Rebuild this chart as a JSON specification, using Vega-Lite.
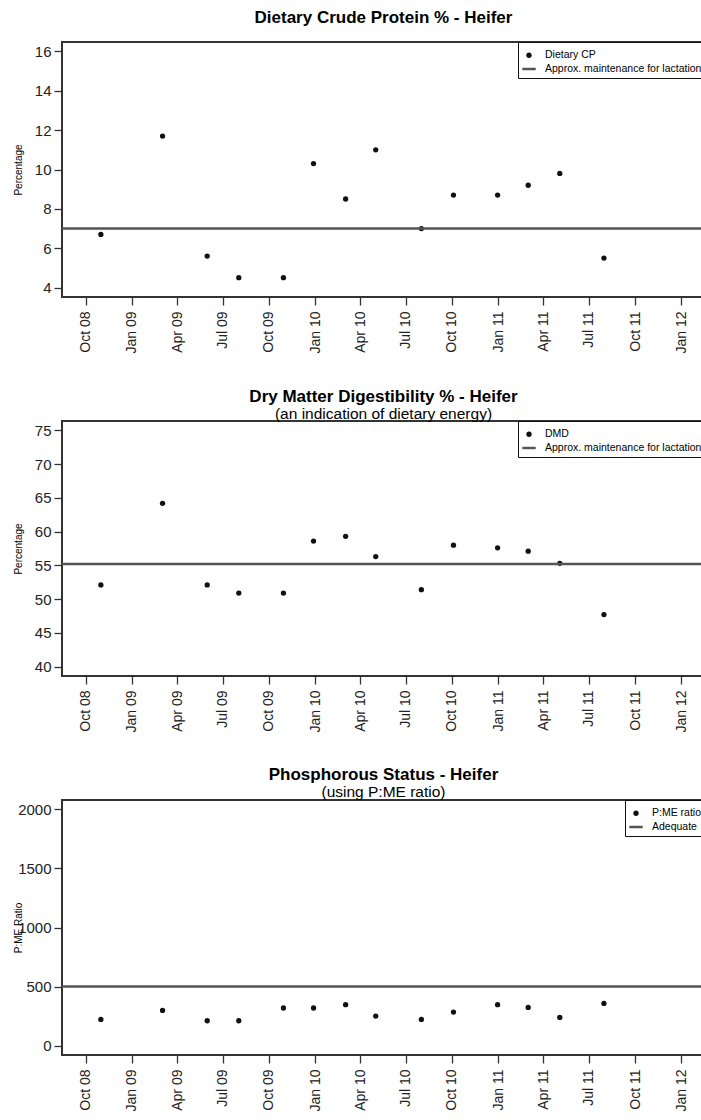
{
  "$schema": "https://vega.github.io/schema/vega-lite/v6.json",
  "background": "white",
  "padding": {"left": 12, "top": 7, "right": 0, "bottom": 0},
  "config": {
    "font": "Liberation Sans",
    "view": {"stroke": "#333", "strokeWidth": 2},
    "axis": {"domain": false, "grid": false, "tickColor": "#333", "tickWidth": 1.3, "tickSize": 8, "labelFont": "Liberation Sans", "labelColor": "#222", "labelFontSize": 15, "labelOverlap": false},
    "axisX": {"labelAngle": -90, "labelAlign": "right", "labelBaseline": "middle", "labelPadding": 6, "labelFontSize": 14, "title": null},
    "axisY": {"labelPadding": 3, "titleAngle": -90, "titleX": -44, "titleY": 127.5, "titleFontSize": 10, "titleFontWeight": "normal", "titleColor": "#000", "titleAlign": "center", "titleBaseline": "middle", "titleFont": "Liberation Sans"},
    "legend": {"orient": "top-right", "offset": 0, "strokeColor": "#111", "fillColor": "white", "padding": 3, "labelFontSize": 10.5, "labelFont": "Liberation Sans", "labelColor": "#000", "rowPadding": 0, "labelLimit": 400, "labelOffset": 8, "titleFontSize": 4, "titlePadding": 1},
    "title": {"anchor": "middle", "fontSize": 17, "fontWeight": "bold", "font": "Liberation Sans", "color": "#000", "subtitleFontSize": 15.5, "subtitleFont": "Liberation Sans", "subtitleColor": "#000", "subtitlePadding": 1}
  },
  "datasets": {
    "cp": [
      {"date": "2008-10-31", "value": 6.7, "series": "Dietary CP"},
      {"date": "2009-03-03", "value": 11.7, "series": "Dietary CP"},
      {"date": "2009-05-31", "value": 5.6, "series": "Dietary CP"},
      {"date": "2009-08-02", "value": 4.5, "series": "Dietary CP"},
      {"date": "2009-10-30", "value": 4.5, "series": "Dietary CP"},
      {"date": "2009-12-29", "value": 10.3, "series": "Dietary CP"},
      {"date": "2010-03-03", "value": 8.5, "series": "Dietary CP"},
      {"date": "2010-05-02", "value": 11.0, "series": "Dietary CP"},
      {"date": "2010-08-01", "value": 7.0, "series": "Dietary CP"},
      {"date": "2010-10-04", "value": 8.7, "series": "Dietary CP"},
      {"date": "2010-12-31", "value": 8.7, "series": "Dietary CP"},
      {"date": "2011-03-02", "value": 9.2, "series": "Dietary CP"},
      {"date": "2011-05-04", "value": 9.8, "series": "Dietary CP"},
      {"date": "2011-07-31", "value": 5.5, "series": "Dietary CP"}
    ],
    "dmd": [
      {"date": "2008-10-31", "value": 52.1, "series": "DMD"},
      {"date": "2009-03-03", "value": 64.2, "series": "DMD"},
      {"date": "2009-05-31", "value": 52.1, "series": "DMD"},
      {"date": "2009-08-02", "value": 50.9, "series": "DMD"},
      {"date": "2009-10-30", "value": 50.9, "series": "DMD"},
      {"date": "2009-12-29", "value": 58.6, "series": "DMD"},
      {"date": "2010-03-03", "value": 59.3, "series": "DMD"},
      {"date": "2010-05-02", "value": 56.3, "series": "DMD"},
      {"date": "2010-08-01", "value": 51.4, "series": "DMD"},
      {"date": "2010-10-04", "value": 58.0, "series": "DMD"},
      {"date": "2010-12-31", "value": 57.6, "series": "DMD"},
      {"date": "2011-03-02", "value": 57.1, "series": "DMD"},
      {"date": "2011-05-04", "value": 55.3, "series": "DMD"},
      {"date": "2011-07-31", "value": 47.7, "series": "DMD"}
    ],
    "pme": [
      {"date": "2008-10-31", "value": 221, "series": "P:ME ratio"},
      {"date": "2009-03-03", "value": 298, "series": "P:ME ratio"},
      {"date": "2009-05-31", "value": 210, "series": "P:ME ratio"},
      {"date": "2009-08-02", "value": 210, "series": "P:ME ratio"},
      {"date": "2009-10-30", "value": 318, "series": "P:ME ratio"},
      {"date": "2009-12-29", "value": 318, "series": "P:ME ratio"},
      {"date": "2010-03-03", "value": 346, "series": "P:ME ratio"},
      {"date": "2010-05-02", "value": 250, "series": "P:ME ratio"},
      {"date": "2010-08-01", "value": 221, "series": "P:ME ratio"},
      {"date": "2010-10-04", "value": 284, "series": "P:ME ratio"},
      {"date": "2010-12-31", "value": 346, "series": "P:ME ratio"},
      {"date": "2011-03-02", "value": 323, "series": "P:ME ratio"},
      {"date": "2011-05-04", "value": 238, "series": "P:ME ratio"},
      {"date": "2011-07-31", "value": 357, "series": "P:ME ratio"}
    ]
  },
  "spacing": 124,
  "bounds": "flush",
  "resolve": {"scale": {"x": "independent", "y": "independent", "shape": "independent", "size": "independent", "strokeWidth": "independent"}, "legend": {"shape": "independent", "size": "independent", "strokeWidth": "independent"}},
  "vconcat": [
    {
      "width": 643, "height": 255,
      "title": {"text": "Dietary Crude Protein % - Heifer", "offset": 15},
      "encoding": {
        "y": {"field": "value", "type": "quantitative", "scale": {"domain": [3.52, 16.48], "nice": false, "zero": false}, "axis": {"values": [4, 6, 8, 10, 12, 14, 16], "title": "Percentage"}}
      },
      "layer": [
        {
          "data": {"name": "cp"},
          "mark": {"type": "point", "filled": true, "color": "#111", "stroke": "#555", "opacity": 1},
          "encoding": {
            "x": {"field": "date", "type": "temporal", "scale": {"type": "utc", "domain": [{"year": 2008, "month": 8, "date": 14, "hours": 12, "utc": true}, {"year": 2012, "month": 2, "date": 17, "hours": 12, "utc": true}]},
              "axis": {"format": "%b %y", "values": [{"year": 2008, "month": 10, "date": 1, "utc": true}, {"year": 2009, "month": 1, "date": 1, "utc": true}, {"year": 2009, "month": 4, "date": 1, "utc": true}, {"year": 2009, "month": 7, "date": 1, "utc": true}, {"year": 2009, "month": 10, "date": 1, "utc": true}, {"year": 2010, "month": 1, "date": 1, "utc": true}, {"year": 2010, "month": 4, "date": 1, "utc": true}, {"year": 2010, "month": 7, "date": 1, "utc": true}, {"year": 2010, "month": 10, "date": 1, "utc": true}, {"year": 2011, "month": 1, "date": 1, "utc": true}, {"year": 2011, "month": 4, "date": 1, "utc": true}, {"year": 2011, "month": 7, "date": 1, "utc": true}, {"year": 2011, "month": 10, "date": 1, "utc": true}, {"year": 2012, "month": 1, "date": 1, "utc": true}]}},
            "shape": {"field": "series", "type": "nominal", "scale": {"domain": ["Dietary CP", "Approx. maintenance for lactation"], "range": ["circle", "stroke"]}, "legend": {"title": " "}},
            "size": {"field": "series", "type": "nominal", "scale": {"domain": ["Dietary CP", "Approx. maintenance for lactation"], "range": [28, 180]}, "legend": {"title": " "}},
            "strokeWidth": {"field": "series", "type": "nominal", "scale": {"domain": ["Dietary CP", "Approx. maintenance for lactation"], "range": [0, 2.5]}, "legend": {"title": " "}}
          }
        },
        {
          "data": {"values": [{"value": 7}]},
          "mark": {"type": "rule", "color": "#555", "strokeWidth": 2.5},
          "encoding": {}
        }
      ]
    },
    {
      "width": 643, "height": 255,
      "title": {"text": "Dry Matter Digestibility % - Heifer", "subtitle": "(an indication of dietary energy)", "offset": -3},
      "encoding": {
        "y": {"field": "value", "type": "quantitative", "scale": {"domain": [38.6, 76.4], "nice": false, "zero": false}, "axis": {"values": [40, 45, 50, 55, 60, 65, 70, 75], "title": "Percentage"}}
      },
      "layer": [
        {
          "data": {"name": "dmd"},
          "mark": {"type": "point", "filled": true, "color": "#111", "stroke": "#555", "opacity": 1},
          "encoding": {
            "x": {"field": "date", "type": "temporal", "scale": {"type": "utc", "domain": [{"year": 2008, "month": 8, "date": 14, "hours": 12, "utc": true}, {"year": 2012, "month": 2, "date": 17, "hours": 12, "utc": true}]},
              "axis": {"format": "%b %y", "values": [{"year": 2008, "month": 10, "date": 1, "utc": true}, {"year": 2009, "month": 1, "date": 1, "utc": true}, {"year": 2009, "month": 4, "date": 1, "utc": true}, {"year": 2009, "month": 7, "date": 1, "utc": true}, {"year": 2009, "month": 10, "date": 1, "utc": true}, {"year": 2010, "month": 1, "date": 1, "utc": true}, {"year": 2010, "month": 4, "date": 1, "utc": true}, {"year": 2010, "month": 7, "date": 1, "utc": true}, {"year": 2010, "month": 10, "date": 1, "utc": true}, {"year": 2011, "month": 1, "date": 1, "utc": true}, {"year": 2011, "month": 4, "date": 1, "utc": true}, {"year": 2011, "month": 7, "date": 1, "utc": true}, {"year": 2011, "month": 10, "date": 1, "utc": true}, {"year": 2012, "month": 1, "date": 1, "utc": true}]}},
            "shape": {"field": "series", "type": "nominal", "scale": {"domain": ["DMD", "Approx. maintenance for lactation"], "range": ["circle", "stroke"]}, "legend": {"title": " "}},
            "size": {"field": "series", "type": "nominal", "scale": {"domain": ["DMD", "Approx. maintenance for lactation"], "range": [28, 180]}, "legend": {"title": " "}},
            "strokeWidth": {"field": "series", "type": "nominal", "scale": {"domain": ["DMD", "Approx. maintenance for lactation"], "range": [0, 2.5]}, "legend": {"title": " "}}
          }
        },
        {
          "data": {"values": [{"value": 55.2}]},
          "mark": {"type": "rule", "color": "#555", "strokeWidth": 2.5},
          "encoding": {}
        }
      ]
    },
    {
      "width": 643, "height": 255,
      "title": {"text": "Phosphorous Status - Heifer", "subtitle": "(using P:ME ratio)", "offset": -2},
      "encoding": {
        "y": {"field": "value", "type": "quantitative", "scale": {"domain": [-80, 2080], "nice": false, "zero": false}, "axis": {"values": [0, 500, 1000, 1500, 2000], "format": "d", "title": "P:ME Ratio"}}
      },
      "layer": [
        {
          "data": {"name": "pme"},
          "mark": {"type": "point", "filled": true, "color": "#111", "stroke": "#555", "opacity": 1},
          "encoding": {
            "x": {"field": "date", "type": "temporal", "scale": {"type": "utc", "domain": [{"year": 2008, "month": 8, "date": 14, "hours": 12, "utc": true}, {"year": 2012, "month": 2, "date": 17, "hours": 12, "utc": true}]},
              "axis": {"format": "%b %y", "values": [{"year": 2008, "month": 10, "date": 1, "utc": true}, {"year": 2009, "month": 1, "date": 1, "utc": true}, {"year": 2009, "month": 4, "date": 1, "utc": true}, {"year": 2009, "month": 7, "date": 1, "utc": true}, {"year": 2009, "month": 10, "date": 1, "utc": true}, {"year": 2010, "month": 1, "date": 1, "utc": true}, {"year": 2010, "month": 4, "date": 1, "utc": true}, {"year": 2010, "month": 7, "date": 1, "utc": true}, {"year": 2010, "month": 10, "date": 1, "utc": true}, {"year": 2011, "month": 1, "date": 1, "utc": true}, {"year": 2011, "month": 4, "date": 1, "utc": true}, {"year": 2011, "month": 7, "date": 1, "utc": true}, {"year": 2011, "month": 10, "date": 1, "utc": true}, {"year": 2012, "month": 1, "date": 1, "utc": true}]}},
            "shape": {"field": "series", "type": "nominal", "scale": {"domain": ["P:ME ratio", "Adequate"], "range": ["circle", "stroke"]}, "legend": {"title": " "}},
            "size": {"field": "series", "type": "nominal", "scale": {"domain": ["P:ME ratio", "Adequate"], "range": [28, 180]}, "legend": {"title": " "}},
            "strokeWidth": {"field": "series", "type": "nominal", "scale": {"domain": ["P:ME ratio", "Adequate"], "range": [0, 2.5]}, "legend": {"title": " "}}
          }
        },
        {
          "data": {"values": [{"value": 500}]},
          "mark": {"type": "rule", "color": "#555", "strokeWidth": 2.5},
          "encoding": {}
        }
      ]
    }
  ]
}
